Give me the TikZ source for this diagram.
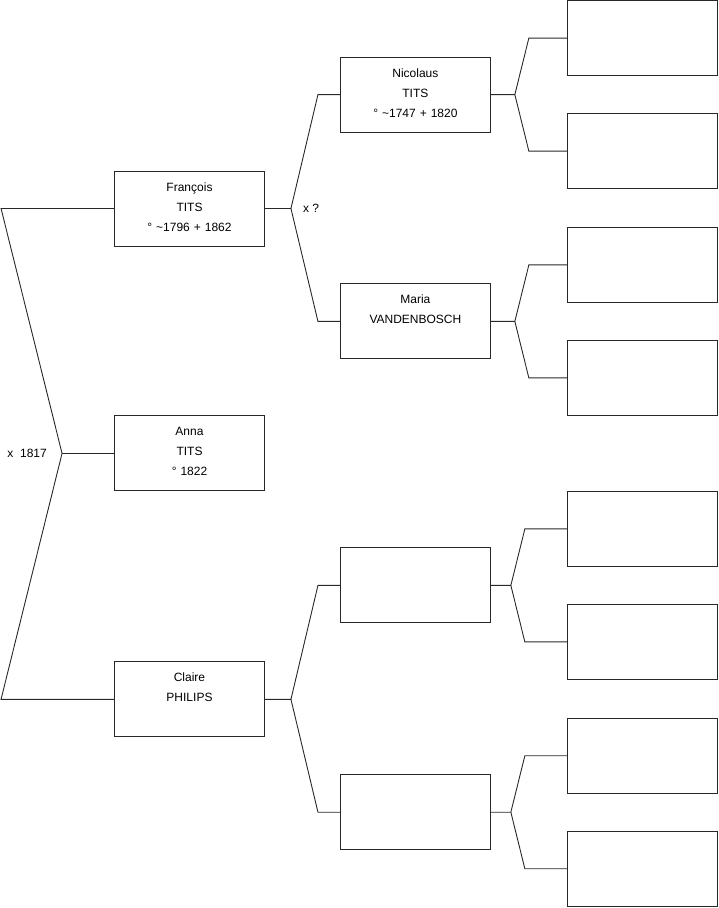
\documentclass[tikz,border=0pt]{standalone}
\usepackage{fontspec}
\setmainfont{Liberation Sans}
\usetikzlibrary{positioning}
\definecolor{treeline}{RGB}{40,40,40}

\begin{document}
\begin{tikzpicture}[
  x=1pt,y=-1pt,
  person/.style={draw=treeline,line width=0.9pt,minimum width=150pt,minimum height=75pt,inner xsep=2pt,inner ysep=0pt,text width=146pt,align=center,text height=20pt,text depth=55pt,font=\fontsize{12pt}{20pt}\selectfont},
  link/.style={draw=treeline,line width=0.9pt},
  note/.style={inner sep=0pt,font=\fontsize{12pt}{14pt}\selectfont}
]
\useasboundingbox (0,0) rectangle (719,908);
% child and her parents
\node[person] (francois) at (189.5,208.5) {François\\TITS\\° \textasciitilde1796 + 1862};
\node[person,below=169pt of francois] (anna) {Anna\\TITS\\° 1822};
\node[person,below=170pt of anna] (claire) {Claire\\PHILIPS};
% grandparents
\node[person,above right=38pt and 75pt of francois] (nicolaus) {Nicolaus\\TITS\\° \textasciitilde1747 + 1820};
\node[person,below right=37pt and 75pt of francois] (maria) {Maria\\VANDENBOSCH};
\node[person,above right=38pt and 75pt of claire] (gpa) {};
\node[person,below right=37pt and 75pt of claire] (gma) {};
% great-grandparents
\node[person,right=76pt of nicolaus,yshift=56.5pt] (g1) {};
\node[person,right=76pt of nicolaus,yshift=-56.5pt] (g2) {};
\node[person,right=76pt of maria,yshift=56.5pt] (g3) {};
\node[person,right=76pt of maria,yshift=-56.5pt] (g4) {};
\node[person,right=76pt of gpa,yshift=56.5pt] (g5) {};
\node[person,right=76pt of gpa,yshift=-56.5pt] (g6) {};
\node[person,right=76pt of gma,yshift=56.5pt] (g7) {};
\node[person,right=76pt of gma,yshift=-56.5pt] (g8) {};
% fork points
\coordinate[left=52pt of anna] (forka);
\coordinate[left=113pt of francois] (downf);
\coordinate[left=113pt of claire] (downc);
\coordinate[right=26pt of francois] (forkf);
\coordinate[right=26pt of claire] (forkc);
\coordinate[left=22pt of nicolaus] (upn);
\coordinate[left=22pt of maria] (upm);
\coordinate[left=22pt of gpa] (upgpa);
\coordinate[left=22pt of gma] (upgma);
\coordinate[right=24pt of nicolaus] (forkn);
\coordinate[right=24pt of maria] (forkm);
\coordinate[right=20pt of gpa] (forkgpa);
\coordinate[right=20pt of gma] (forkgma);
\coordinate[left=38pt of g1] (up1);
\coordinate[left=38pt of g2] (up2);
\coordinate[left=38pt of g3] (up3);
\coordinate[left=38pt of g4] (up4);
\coordinate[left=42pt of g5] (up5);
\coordinate[left=42pt of g6] (up6);
\coordinate[left=42pt of g7] (up7);
\coordinate[left=42pt of g8] (up8);
% marriages
\node[note,left=15pt of forka] (wedanna) {x\ \ 1817};
\node[note,right=12pt of forkf] (wedfrancois) {x ?};
% connectors
\draw[link] (francois) -- (downf) -- (forka) -- (downc) -- (claire);
\draw[link] (forka) -- (anna);
\draw[link] (francois) -- (forkf) -- (upn) -- (nicolaus);
\draw[link] (forkf) -- (upm) -- (maria);
\draw[link] (claire) -- (forkc) -- (upgpa) -- (gpa);
\draw[link] (forkc) -- (upgma) -- (gma);
\draw[link] (nicolaus) -- (forkn) -- (up1) -- (g1);
\draw[link] (forkn) -- (up2) -- (g2);
\draw[link] (maria) -- (forkm) -- (up3) -- (g3);
\draw[link] (forkm) -- (up4) -- (g4);
\draw[link] (gpa) -- (forkgpa) -- (up5) -- (g5);
\draw[link] (forkgpa) -- (up6) -- (g6);
\draw[link] (gma) -- (forkgma) -- (up7) -- (g7);
\draw[link] (forkgma) -- (up8) -- (g8);
\end{tikzpicture}
\end{document}
